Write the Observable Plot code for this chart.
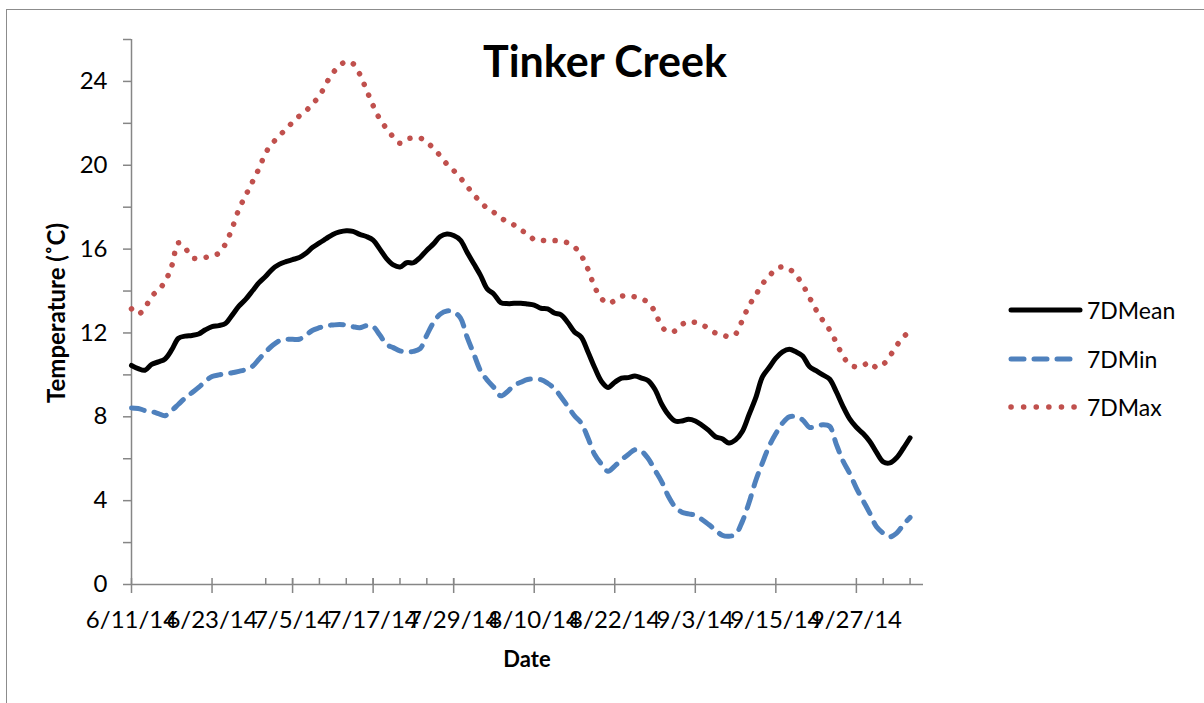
<!DOCTYPE html>
<html>
<head>
<meta charset="utf-8">
<script src="https://cdn.jsdelivr.net/npm/d3@7"></script>
<script src="https://cdn.jsdelivr.net/npm/@observablehq/plot@0.6"></script>
<style>
  html, body { margin: 0; padding: 0; background: #fff; overflow: hidden; width: 1204px; height: 703px; }
  #wrap { position: relative; width: 1204px; height: 703px; font-family: Lato, "Open Sans", sans-serif; }
  #frame { position: absolute; left: 6px; top: 9px; width: 2000px; height: 2000px; border: 1.5px solid #8c8c8c; box-sizing: border-box; }
  #chart { position: absolute; left: 0; top: 0; }
  .title { position: absolute; left: 0; width: 1210px; top: 39px; text-align: center; font-weight: 700; font-size: 43px; line-height: 43px; color: #000; }
  .xtitle { position: absolute; left: 427px; width: 200px; top: 648px; text-align: center; font-weight: 700; font-size: 22px; line-height: 22px; }
  .ytitle { position: absolute; left: 56px; top: 313px; transform: translate(-50%, -50%) rotate(-90deg); white-space: nowrap; font-weight: 700; font-size: 24px; line-height: 24px; }
  .legend { position: absolute; left: 1008px; }
  .legend .row { position: absolute; left: 0; height: 30px; width: 190px; }
  .legend svg { position: absolute; left: 0; top: 0; }
  .legend span { position: absolute; left: 79px; top: 0; font-size: 23px; line-height: 30px; white-space: nowrap; }
</style>
</head>
<body>
<div id="wrap">
  <div id="frame"></div>
  <div id="chart"></div>
  <div class="title">Tinker Creek</div>
  <div class="xtitle">Date</div>
  <div class="ytitle">Temperature (˚C)</div>
  <div class="legend" id="legend"></div>
</div>
<script>
// ---- Data ----
const startDate = "2014-06-11";
const endDate = "2014-10-07";   // end of the axis

const seriesNames = ["7DMean", "7DMin", "7DMax"];
const seriesColors = ["#000000", "#4F81BD", "#C0504D"];

const mean7D = [10.45,10.3,10.22,10.5,10.62,10.76,11.2,11.75,11.85,11.88,
11.95,12.15,12.3,12.35,12.45,12.85,13.28,13.6,14.0,14.4,
14.7,15.05,15.27,15.4,15.5,15.6,15.8,16.09,16.3,16.5,
16.7,16.82,16.88,16.85,16.7,16.6,16.43,16.0,15.55,15.25,
15.15,15.35,15.35,15.6,15.95,16.25,16.6,16.72,16.65,16.43,
15.85,15.3,14.75,14.1,13.85,13.45,13.4,13.42,13.42,13.38,
13.33,13.18,13.15,12.95,12.86,12.5,12.05,11.8,11.1,10.35,
9.7,9.4,9.65,9.85,9.87,9.95,9.85,9.72,9.3,8.6,
8.1,7.8,7.8,7.88,7.8,7.6,7.35,7.05,6.95,6.75,
6.9,7.3,8.1,8.9,9.9,10.35,10.8,11.1,11.22,11.1,
10.9,10.4,10.2,10.0,9.8,9.2,8.5,7.9,7.5,7.2,
6.82,6.3,5.85,5.8,6.05,6.5,7.0];

const min7D = [8.42,8.4,8.3,8.25,8.15,8.05,8.3,8.6,8.9,9.15,
9.4,9.7,9.92,10.0,10.05,10.1,10.17,10.25,10.4,10.75,
11.1,11.4,11.62,11.7,11.7,11.7,11.9,12.13,12.25,12.35,
12.38,12.4,12.38,12.3,12.25,12.35,12.3,11.9,11.45,11.3,
11.15,11.1,11.12,11.25,11.9,12.5,12.9,13.05,13.0,12.72,
11.8,11.0,10.2,9.75,9.4,9.0,9.2,9.5,9.65,9.78,
9.8,9.77,9.6,9.35,8.95,8.5,8.05,7.7,7.0,6.2,
5.75,5.4,5.65,5.95,6.2,6.43,6.35,6.0,5.45,4.9,
4.2,3.7,3.45,3.37,3.3,3.1,2.86,2.6,2.35,2.3,
2.4,3.0,3.9,4.95,5.8,6.6,7.2,7.7,8.0,8.0,
7.85,7.5,7.55,7.62,7.55,6.7,5.9,5.3,4.6,4.0,
3.4,2.75,2.45,2.27,2.45,2.85,3.2];

const max7D = [13.15,12.9,13.2,13.75,14.05,14.45,15.2,16.3,16.05,15.6,
15.55,15.6,15.7,15.8,16.25,17.0,17.9,18.55,19.2,19.85,
20.6,21.05,21.4,21.72,22.05,22.35,22.6,22.95,23.3,23.9,
24.4,24.75,24.95,24.85,24.35,23.6,22.85,22.2,21.75,21.35,
21.05,21.25,21.3,21.3,21.1,20.8,20.45,20.05,19.75,19.4,
19.0,18.6,18.25,17.95,17.75,17.5,17.3,17.15,16.9,16.75,
16.45,16.42,16.41,16.41,16.38,16.3,16.1,15.7,15.05,14.2,
13.65,13.4,13.55,13.75,13.78,13.72,13.62,13.45,13.0,12.3,
12.05,12.1,12.4,12.55,12.5,12.4,12.2,12.0,11.92,11.82,
11.95,12.6,13.3,13.8,14.34,14.7,15.05,15.15,15.05,14.75,
14.3,13.7,13.1,12.6,12.15,11.55,10.9,10.5,10.38,10.45,
10.6,10.35,10.5,10.9,11.4,11.8,12.1];

const yTickValues = [0, 4, 8, 12, 16, 20, 24];
const yMinorTickValues = [2, 6, 10, 14, 18, 22, 26];
const xTickLabels = ["6/11/14","6/23/14","7/5/14","7/17/14","7/29/14","8/10/14","8/22/14","9/3/14","9/15/14","9/27/14"];

// ---- Build table ----
const start = new Date(startDate + "T00:00:00Z");
const end = new Date(endDate + "T00:00:00Z");
const rows = mean7D.map((v, i) => ({
  date: d3.utcDay.offset(start, i),
  mean: v, min: min7D[i], max: max7D[i]
}));
const parse = d3.utcParse("%m/%d/%y");
const majorX = xTickLabels.map(s => ({date: parse(s), label: s}));
const minorX = d3.utcDay.every(4).range(start, d3.utcDay.offset(end, 1)).filter((d) => Math.round((d - start) / 864e5) % 4 === 0);
const allYTicks = yTickValues.concat(yMinorTickValues);
const axisColor = "#868686";
const font = "Lato, 'Open Sans', sans-serif";

const chart = Plot.plot({
  width: 1204,
  height: 703,
  marginLeft: 131,
  marginRight: 281,
  marginTop: 39,
  marginBottom: 119,
  x: {type: "utc", domain: [start, end], axis: null},
  y: {domain: [0, 26], axis: null},
  style: {background: "transparent", fontFamily: font},
  marks: [
    Plot.ruleY([0], {stroke: axisColor, strokeWidth: 1.5}),
    Plot.ruleX([start], {x: d => d, y1: () => 0, y2: () => 26, stroke: axisColor, strokeWidth: 1.5}),
    Plot.ruleX(minorX, {x: d => d, y1: () => 0, y2: () => 0, insetTop: -6, insetBottom: 0, stroke: axisColor, strokeWidth: 1.5}),
    Plot.ruleX(majorX, {x: "date", y1: () => 0, y2: () => 0, insetTop: -6, insetBottom: -9, stroke: axisColor, strokeWidth: 1.5}),
    Plot.ruleY(allYTicks, {y: d => d, x1: () => start, x2: () => start, insetLeft: -8, stroke: axisColor, strokeWidth: 1.5}),
    Plot.text(yTickValues, {x: () => start, y: d => d, text: d => String(d), textAnchor: "end", dx: -24, fontSize: 24, fill: "#000"}),
    Plot.text(majorX, {x: "date", y: () => 0, text: "label", dy: 36, fontSize: 24, fill: "#000"}),
    Plot.line(rows, {x: "date", y: "max", stroke: seriesColors[2], strokeWidth: 5.5, strokeDasharray: "0.1,11.5", strokeLinecap: "round", curve: "catmull-rom"}),
    Plot.line(rows, {x: "date", y: "min", stroke: seriesColors[1], strokeWidth: 5, strokeDasharray: "13,10", strokeLinecap: "round", curve: "catmull-rom"}),
    Plot.line(rows, {x: "date", y: "mean", stroke: seriesColors[0], strokeWidth: 5, curve: "catmull-rom"})
  ]
});
document.getElementById("chart").appendChild(chart);

// ---- Legend ----
const legend = document.getElementById("legend");
const dashes = [null, "13,10", "0.1,12.5"];
const widths = [5, 5, 5.5];
const rowCenters = [310, 359, 407];
seriesNames.forEach((name, i) => {
  const row = document.createElement("div");
  row.className = "row";
  row.style.top = (rowCenters[i] - 15) + "px";
  const svg = d3.create("svg").attr("width", 76).attr("height", 30);
  svg.append("line").attr("x1", 3).attr("x2", 72).attr("y1", 15).attr("y2", 15)
    .attr("stroke", seriesColors[i]).attr("stroke-width", widths[i])
    .attr("stroke-linecap", "round")
    .attr("stroke-dasharray", dashes[i]);
  row.appendChild(svg.node());
  const span = document.createElement("span");
  span.textContent = name;
  row.appendChild(span);
  legend.appendChild(row);
});
</script>
</body>
</html>
